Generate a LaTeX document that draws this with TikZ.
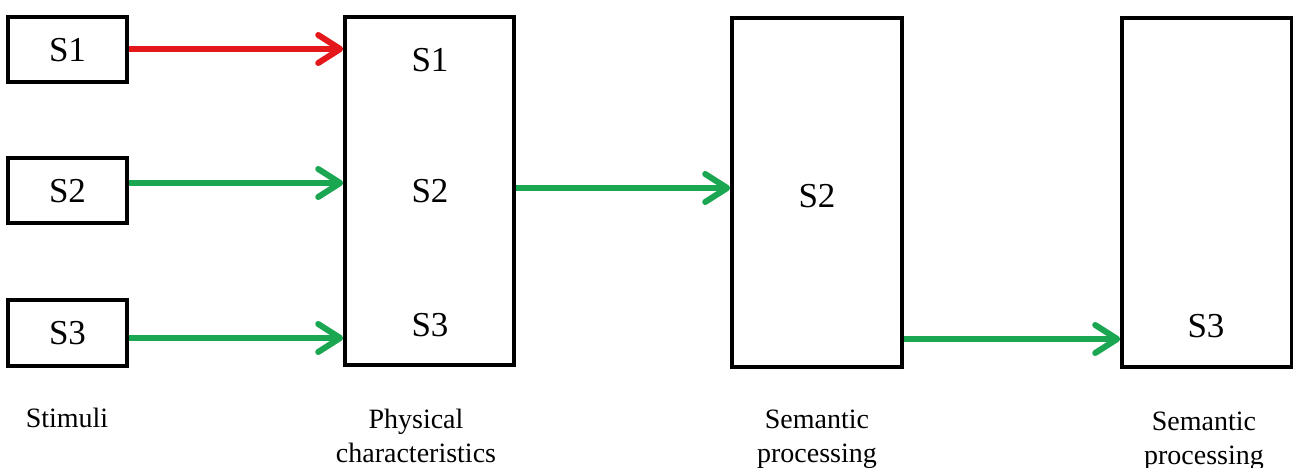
\documentclass[tikz,border=0pt]{standalone}
\usepackage{fontspec}
\setmainfont{Liberation Serif}
\usetikzlibrary{arrows.meta}
\definecolor{flowgreen}{RGB}{27,166,82}
\definecolor{flowred}{RGB}{228,24,26}
\begin{document}
\begin{tikzpicture}[x=1pt,y=-1pt,
  box/.style={draw=black, line width=3.6pt, inner sep=0pt, rectangle},
  boxtext/.style={font=\fontsize{35}{40}\selectfont, inner sep=0pt},
  lbl/.style={font=\fontsize{28}{34}\selectfont, align=center, anchor=base, inner sep=0pt},
  flow/.style={line width=6pt, -{Straight Barb[length=22pt,width=28pt,line cap=round,line join=round]}},
  redflow/.style={flow, draw=flowred},
  greenflow/.style={flow, draw=flowgreen}]
  \useasboundingbox (0,0) rectangle (1293,468);

  % stimuli boxes
  \node[box, minimum width=119pt, minimum height=65pt] (s1) at (67.5,49.5) {};
  \node[box, minimum width=119pt, minimum height=65pt] (s2) at (67.5,190.5) {};
  \node[box, minimum width=119pt, minimum height=66pt] (s3) at (67.5,333) {};
  \node[boxtext] (s1t) at (67.5,50) {S1};
  \node[boxtext] (s2t) at (67.5,191) {S2};
  \node[boxtext] (s3t) at (67.5,333) {S3};

  % processing stages
  \node[box, minimum width=169pt, minimum height=348pt] (phys) at (429.5,191) {};
  \node[box, minimum width=170pt, minimum height=349pt] (sem) at (817,192.5) {};
  \node[box, minimum width=170pt, minimum height=349pt] (semb) at (1207,192.5) {};

  \node[boxtext] (p1) at (430,60) {S1};
  \node[boxtext] (p2) at (430,191) {S2};
  \node[boxtext] (p3) at (430,325) {S3};
  \node[boxtext] (m2) at (817,196) {S2};
  \node[boxtext] (n3) at (1206,326) {S3};

  % arrow rows
  \coordinate (r1) at (0,49);
  \coordinate (r2) at (0,183);
  \coordinate (r3) at (0,338);
  \coordinate (r4) at (0,188);
  \coordinate (r5) at (0,339);

  \draw[redflow] (s1.east |- r1) -- (phys.west |- r1);
  \draw[greenflow] (s2.east |- r2) -- (phys.west |- r2);
  \draw[greenflow] (s3.east |- r3) -- (phys.west |- r3);
  \draw[greenflow] (phys.east |- r4) -- (sem.west |- r4);
  \draw[greenflow] (sem.east |- r5) -- (semb.west |- r5);

  % stage labels
  \node[lbl] (l1) at (67,427) {Stimuli};
  \node[lbl] (l2) at (416,462) {Physical\\characteristics};
  \node[lbl] (l3) at (817,462) {Semantic\\processing};
  \node[lbl] (l4) at (1204,464) {Semantic\\processing};
\end{tikzpicture}
\end{document}
